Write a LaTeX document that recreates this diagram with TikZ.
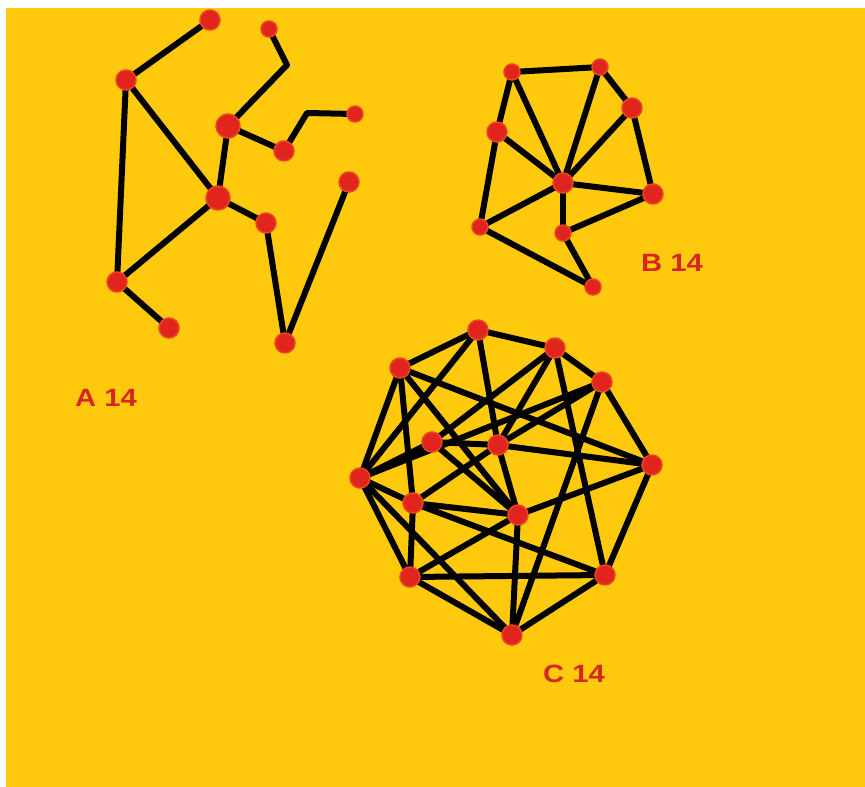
\documentclass[tikz,border=0pt]{standalone}
\usepackage{fontspec}
\setmainfont{Liberation Sans}
\pgfdeclarelayer{bg}
\pgfdeclarelayer{edges}
\pgfsetlayers{bg,edges,main}
\definecolor{bgyellow}{RGB}{255,201,14}
\definecolor{dotred}{RGB}{226,36,30}
\definecolor{dotrim}{RGB}{236,70,34}
\definecolor{labelred}{RGB}{214,38,30}
\tikzset{
  vtx/.style={circle,fill=dotred,draw=dotrim,line width=1.5pt,inner sep=0pt,minimum size=20pt},
  vbig/.style={vtx,minimum size=24pt},
  vsmall/.style={vtx,minimum size=16pt},
  lnk/.style={line width=6pt,black,line cap=round,line join=round},
  grlabel/.style={text=labelred,font=\bfseries\fontsize{25}{25}\selectfont,inner sep=0pt,xscale=1.17}
}
\begin{document}
\begin{tikzpicture}[x=1pt,y=-1pt]
\begin{pgfonlayer}{bg}
\fill[white] (0,0) rectangle (865,787);
\fill[bgyellow] (6,8) rectangle (865,787);
\end{pgfonlayer}
\useasboundingbox (0,0) rectangle (865,787);
% ---------- graph A ----------
\node[vtx] (a1) at (210,20) {};
\node[vsmall] (a2) at (269,29) {};
\node[vtx] (a3) at (126,80) {};
\node[vbig] (a4) at (228,126) {};
\node[vtx] (a5) at (284,151) {};
\node[vsmall] (a6) at (355,114) {};
\node[vbig] (a7) at (218,198) {};
\node[vtx] (a8) at (349,182) {};
\node[vtx] (a9) at (266,223) {};
\node[vtx] (a10) at (117,282) {};
\node[vtx] (a11) at (169,328) {};
\node[vtx] (a12) at (285,343) {};
\coordinate (ab1) at (287,65);
\coordinate (ab2) at (307,113);
\begin{pgfonlayer}{edges}
\draw[lnk] (a1.center) -- (a3.center);
\draw[lnk] (a3.center) -- (a10.center);
\draw[lnk] (a3.center) -- (a7.center);
\draw[lnk] (a2.center) -- (ab1) -- (a4.center);
\draw[lnk] (a4.center) -- (a5.center);
\draw[lnk] (a5.center) -- (ab2) -- (a6.center);
\draw[lnk] (a4.center) -- (a7.center);
\draw[lnk] (a7.center) -- (a10.center);
\draw[lnk] (a7.center) -- (a9.center);
\draw[lnk] (a9.center) -- (a12.center);
\draw[lnk] (a12.center) -- (a8.center);
\draw[lnk] (a10.center) -- (a11.center);
\end{pgfonlayer}
% ---------- graph B ----------
\node[vsmall] (b1) at (512,72) {};
\node[vsmall] (b2) at (600,67) {};
\node[vtx] (b3) at (632,108) {};
\node[vtx] (b4) at (497,132) {};
\node[vtx] (b5) at (563,183) {};
\node[vtx] (b6) at (653,194) {};
\node[vsmall] (b7) at (480,227) {};
\node[vsmall] (b8) at (563,233) {};
\node[vsmall] (b9) at (593,287) {};
\begin{pgfonlayer}{edges}
\foreach \u/\v in {b1/b2,b2/b3,b3/b6,b1/b4,b4/b7,b1/b5,b2/b5,b3/b5,b4/b5,b5/b6,b5/b7,b5/b8,b8/b6,b7/b9,b8/b9}
  \draw[lnk] (\u.center) -- (\v.center);
\end{pgfonlayer}
% ---------- graph C ----------
\node[vtx] (c1) at (478,330) {};
\node[vtx] (c2) at (555,348) {};
\node[vtx] (c3) at (602,382) {};
\node[vtx] (c4) at (400,368) {};
\node[vtx] (c5) at (432,442) {};
\node[vtx] (c6) at (498,445) {};
\node[vtx] (c7) at (652,465) {};
\node[vtx] (c8) at (360,478) {};
\node[vtx] (c9) at (413,503) {};
\node[vtx] (c10) at (518,515) {};
\node[vtx] (c11) at (410,577) {};
\node[vtx] (c12) at (605,575) {};
\node[vtx] (c13) at (512,635) {};
\begin{pgfonlayer}{edges}
\foreach \u/\v in {c1/c2,c2/c3,c3/c7,c7/c12,c12/c13,c13/c11,c11/c8,c8/c4,c4/c1,
  c1/c8,c1/c6,c6/c10,c4/c7,c4/c10,c4/c9,c9/c11,c8/c5,c5/c6,c5/c2,c6/c2,c6/c3,
  c6/c7,c10/c7,c10/c13,c2/c12,c3/c13,c11/c12,c11/c10,c9/c12,c9/c10,c8/c9,c9/c6,c5/c10,c3/c8,c8/c13}
  \draw[lnk] (\u.center) -- (\v.center);
\end{pgfonlayer}
% ---------- labels ----------
\node[grlabel] (la) at (106,398) {A 14};
\node[grlabel] (lb) at (672,263) {B 14};
\node[grlabel] (lc) at (574,674) {C 14};
\end{tikzpicture}
\end{document}
